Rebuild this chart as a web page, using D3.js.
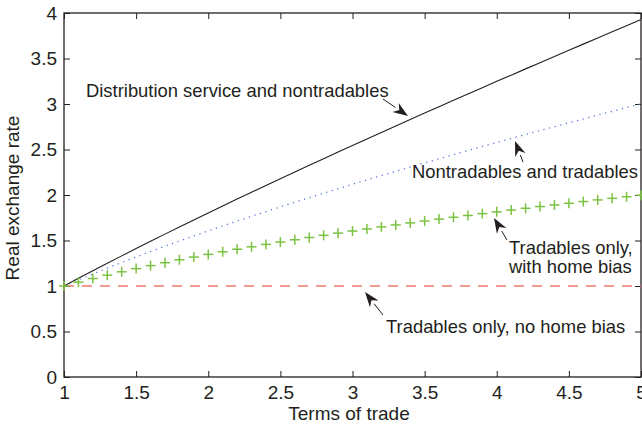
<!DOCTYPE html>
<html><head><meta charset="utf-8">
<script src="https://cdn.jsdelivr.net/npm/d3@7"></script>
<style>body{margin:0;background:#fff;} text{font-family:"Liberation Sans",Arial,sans-serif;fill:#231f20;}</style>
</head><body>
<svg id="c" width="642" height="428"></svg>
<script>
const tot = [1.0,1.1,1.2,1.3,1.4,1.5,1.6,1.7,1.8,1.9,2.0,2.1,2.2,2.3,2.4,2.5,2.6,2.7,2.8,2.9,3.0,3.1,3.2,3.3,3.4,3.5,3.6,3.7,3.8,3.9,4.0,4.1,4.2,4.3,4.4,4.5,4.6,4.7,4.8,4.9,5.0];
const distribution = [1.00,1.084,1.168,1.250,1.331,1.411,1.491,1.570,1.648,1.726,1.802,1.879,1.955,2.030,2.105,2.179,2.253,2.326,2.399,2.472,2.544,2.616,2.688,2.759,2.830,2.900,2.970,3.040,3.110,3.179,3.249,3.317,3.386,3.454,3.522,3.590,3.658,3.725,3.793,3.860,3.928];
const nontradables = [1.00,1.067,1.133,1.196,1.258,1.319,1.379,1.437,1.494,1.550,1.605,1.660,1.714,1.766,1.818,1.870,1.920,1.971,2.020,2.069,2.118,2.166,2.213,2.260,2.307,2.353,2.398,2.444,2.489,2.533,2.577,2.621,2.665,2.708,2.751,2.794,2.836,2.878,2.919,2.961,3.002];
const homeBias = [1.00,1.042,1.082,1.119,1.156,1.191,1.224,1.256,1.288,1.318,1.347,1.376,1.404,1.431,1.457,1.483,1.508,1.533,1.557,1.581,1.604,1.627,1.649,1.671,1.693,1.714,1.735,1.755,1.775,1.795,1.815,1.834,1.854,1.873,1.891,1.909,1.928,1.946,1.963,1.981,1.998];
const noHomeBias = [1,1,1,1,1,1,1,1,1,1,1,1,1,1,1,1,1,1,1,1,1,1,1,1,1,1,1,1,1,1,1,1,1,1,1,1,1,1,1,1,1];
const xTicks = [1,1.5,2,2.5,3,3.5,4,4.5,5];
const yTicks = [0,0.5,1,1.5,2,2.5,3,3.5,4];
const annotations = [
  {lines:["Distribution service and nontradables"], tx:86, ty:97, anchor:"start", from:[383,99], to:[408,116]},
  {lines:["Nontradables and tradables"], tx:412, ty:178, anchor:"start", from:[523,162], to:[515,141]},
  {lines:["Tradables only,","with home bias"], tx:509, ty:254, anchor:"start", from:[507,240], to:[494,218]},
  {lines:["Tradables only, no home bias"], tx:386, ty:333, anchor:"start", from:[383,315], to:[365,292]}
];

const svg = d3.select("#c");
const L=64, R=641, T=13, B=377;
const x = d3.scaleLinear().domain([1,5]).range([L,R]);
const y = d3.scaleLinear().domain([0,4]).range([B,T]);
const fs = 19, fa = 18.4;

svg.append("rect").attr("x",L).attr("y",T).attr("width",R-L).attr("height",B-T).attr("fill","none").attr("stroke","#231f20").attr("stroke-width",1.3);

const ax = d3.axisBottom(x).tickValues(xTicks).tickSize(-6).tickPadding(9).tickFormat(d3.format("~g"));
const gx = svg.append("g").attr("transform",`translate(0,${B})`).call(ax);
const axT = d3.axisTop(x).tickValues(xTicks).tickSize(-6).tickFormat("");
const gxt = svg.append("g").attr("transform",`translate(0,${T})`).call(axT);
const ay = d3.axisLeft(y).tickValues(yTicks).tickSize(-6).tickPadding(7).tickFormat(d3.format("~g"));
const gy = svg.append("g").attr("transform",`translate(${L},0)`).call(ay);
const ayR = d3.axisRight(y).tickValues(yTicks).tickSize(-6).tickFormat("");
const gyr = svg.append("g").attr("transform",`translate(${R},0)`).call(ayR);
[gx,gxt,gy,gyr].forEach(g=>{
  g.select(".domain").remove();
  g.selectAll("line").attr("stroke","#231f20").attr("stroke-width",1);
  g.selectAll("text").attr("font-size",fs).attr("fill","#231f20").style("font-family","'Liberation Sans',Arial,sans-serif");
});

svg.append("text").attr("x",349).attr("y",420).attr("text-anchor","middle").attr("font-size",fs).text("Terms of trade");
svg.append("text").attr("transform",`translate(19,198) rotate(-90)`).attr("text-anchor","middle").attr("font-size",fs).text("Real exchange rate");

const line = d3.line().x((d,i)=>x(tot[i])).y(d=>y(d));
svg.append("path").datum(noHomeBias).attr("d",line).attr("fill","none").attr("stroke","#f07a72").attr("stroke-width",1.3).attr("stroke-dasharray","10,8");
svg.append("path").datum(nontradables).attr("d",line).attr("fill","none").attr("stroke","#5b7fd6").attr("stroke-width",1.3).attr("stroke-dasharray","1.3,4.5");
svg.append("path").datum(distribution).attr("d",line).attr("fill","none").attr("stroke","#231f20").attr("stroke-width",1.1);
const cross = svg.append("g").attr("stroke","#7cc242").attr("stroke-width",1.5);
homeBias.forEach((v,i)=>{
  const cx=x(tot[i]), cy=y(v), s=5;
  cross.append("line").attr("x1",cx-s).attr("x2",cx+s).attr("y1",cy).attr("y2",cy);
  cross.append("line").attr("x1",cx).attr("x2",cx).attr("y1",cy-s).attr("y2",cy+s);
});

annotations.forEach(a=>{
  const t = svg.append("text").attr("x",a.tx).attr("y",a.ty).attr("text-anchor",a.anchor).attr("font-size",fa);
  a.lines.forEach((l,i)=>t.append("tspan").attr("x",a.tx).attr("dy",i?19:0).text(l));
  const [x1,y1]=a.from,[x2,y2]=a.to;
  const ang=Math.atan2(y2-y1,x2-x1);
  const hl=15, hw=5.5;
  const bx=x2-hl*Math.cos(ang), by=y2-hl*Math.sin(ang);
  const nx=-Math.sin(ang), ny=Math.cos(ang);
  svg.append("line").attr("x1",x1).attr("y1",y1).attr("x2",bx).attr("y2",by).attr("stroke","#231f20").attr("stroke-width",1);
  const ix=x2-hl*0.7*Math.cos(ang), iy=y2-hl*0.7*Math.sin(ang);
  svg.append("path").attr("d",`M${x2},${y2}L${bx+nx*hw},${by+ny*hw}L${ix},${iy}L${bx-nx*hw},${by-ny*hw}Z`).attr("fill","#231f20");
});
</script>
</body></html>
